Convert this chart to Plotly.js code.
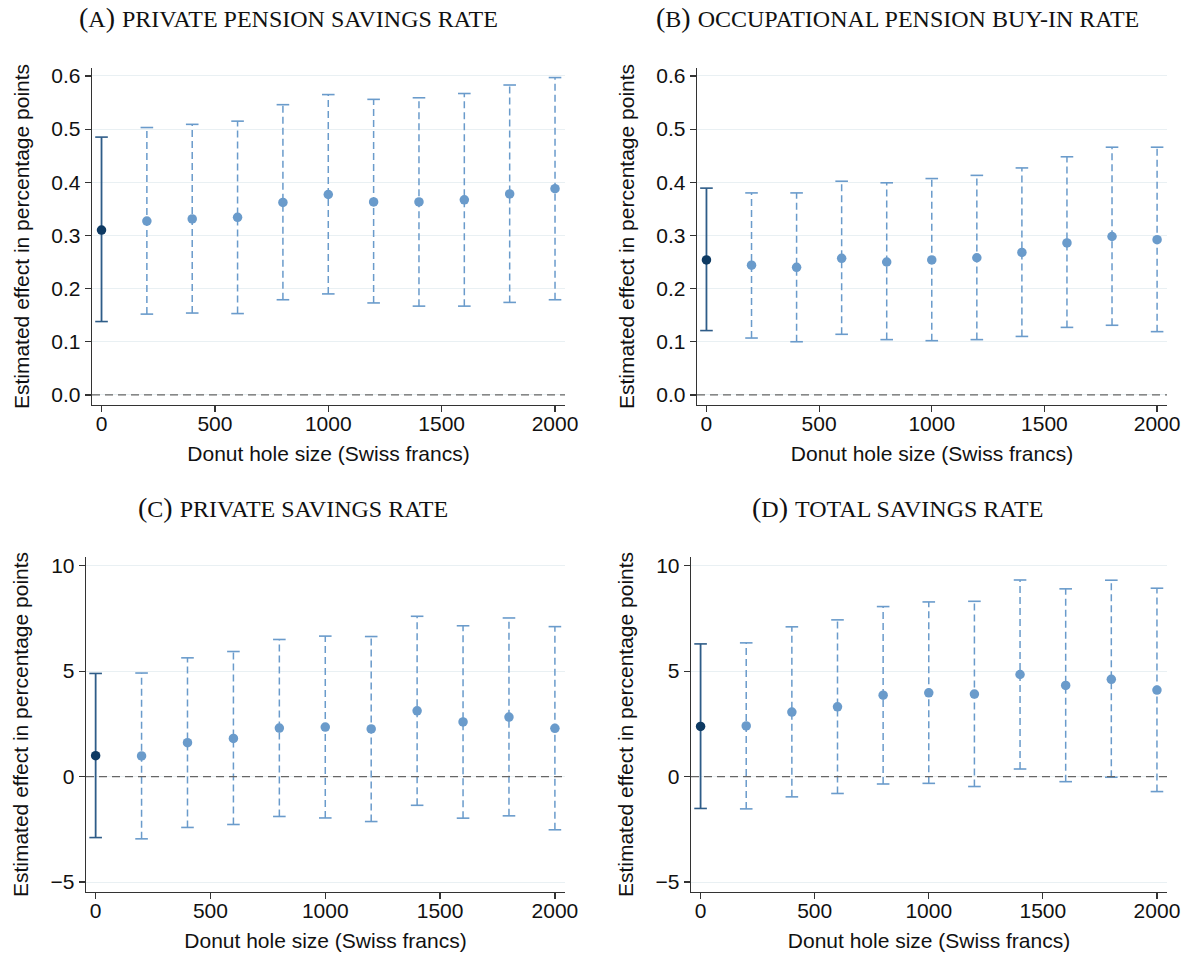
<!DOCTYPE html>
<html>
<head>
<meta charset="utf-8">
<script src="https://cdn.plot.ly/plotly-3.0.1.min.js"></script>
<style>html,body{margin:0;padding:0;background:#fff;}#chart{width:1188px;height:955px;}</style>
</head>
<body>
<div id="chart"></div>
<script>
// ---- data ----
const donutSize = [0, 200, 400, 600, 800, 1000, 1200, 1400, 1600, 1800, 2000];

const panelLetters = ["A", "B", "C", "D"];
const panelNames = [
  "PRIVATE PENSION SAVINGS RATE",
  "OCCUPATIONAL PENSION BUY-IN RATE",
  "PRIVATE SAVINGS RATE",
  "TOTAL SAVINGS RATE"
];

const aEst = [0.310, 0.327, 0.331, 0.334, 0.362, 0.377, 0.363, 0.363, 0.367, 0.378, 0.388];
const aLo  = [0.138, 0.152, 0.154, 0.153, 0.179, 0.190, 0.173, 0.167, 0.167, 0.174, 0.179];
const aHi  = [0.485, 0.503, 0.509, 0.515, 0.546, 0.565, 0.556, 0.559, 0.567, 0.583, 0.597];

const bEst = [0.254, 0.244, 0.240, 0.257, 0.250, 0.254, 0.258, 0.268, 0.286, 0.298, 0.292];
const bLo  = [0.121, 0.107, 0.100, 0.114, 0.104, 0.102, 0.104, 0.110, 0.127, 0.131, 0.119];
const bHi  = [0.389, 0.380, 0.380, 0.402, 0.399, 0.407, 0.413, 0.427, 0.448, 0.466, 0.466];

const cEst = [0.99, 0.98, 1.61, 1.81, 2.30, 2.35, 2.26, 3.12, 2.59, 2.82, 2.29];
const cLo  = [-2.89, -2.95, -2.41, -2.27, -1.89, -1.96, -2.13, -1.36, -1.97, -1.86, -2.52];
const cHi  = [4.89, 4.91, 5.63, 5.93, 6.50, 6.66, 6.64, 7.60, 7.15, 7.52, 7.11];

const dEst = [2.38, 2.40, 3.06, 3.31, 3.86, 3.97, 3.91, 4.84, 4.32, 4.61, 4.10];
const dLo  = [-1.51, -1.53, -0.96, -0.80, -0.35, -0.32, -0.47, 0.36, -0.24, -0.03, -0.71];
const dHi  = [6.29, 6.34, 7.10, 7.43, 8.06, 8.28, 8.31, 9.32, 8.90, 9.31, 8.93];

const xTickVals = [0, 500, 1000, 1500, 2000];
const yTicksPension = [0, 0.1, 0.2, 0.3, 0.4, 0.5, 0.6];
const yTicksSavings = [-5, 0, 5, 10];

const xTitle = "Donut hole size (Swiss francs)";
const yTitle = "Estimated effect in percentage points";

// ---- style ----
const LIGHT = "#6a9bcb";
const DARK = "#0e3a63";
const DARKBAR = "#2e5c88";
const SANS = "Liberation Sans, Arial, sans-serif";
const SERIF = "Liberation Serif, Times New Roman, serif";

const panels = [
  {est: aEst, lo: aLo, hi: aHi, xa: "x",  ya: "y"},
  {est: bEst, lo: bLo, hi: bHi, xa: "x2", ya: "y2"},
  {est: cEst, lo: cLo, hi: cHi, xa: "x3", ya: "y3"},
  {est: dEst, lo: dLo, hi: dHi, xa: "x4", ya: "y4"}
];

const traces = [];
panels.forEach(p => {
  const dx = [], dy = [];
  donutSize.forEach((x, i) => { if (i > 0) { dx.push(x, x, null); dy.push(p.lo[i], p.hi[i], null); } });
  traces.push({x: dx, y: dy, xaxis: p.xa, yaxis: p.ya, mode: "lines", type: "scatter",
    line: {color: LIGHT, width: 1.5, dash: "7px,4px"}, hoverinfo: "skip", showlegend: false});
  traces.push({x: [donutSize[0], donutSize[0]], y: [p.lo[0], p.hi[0]], xaxis: p.xa, yaxis: p.ya,
    mode: "lines", type: "scatter", line: {color: DARKBAR, width: 1.8}, hoverinfo: "skip", showlegend: false});
  const capCol = donutSize.map((x, i) => i === 0 ? DARKBAR : LIGHT);
  traces.push({x: donutSize.concat(donutSize), y: p.lo.concat(p.hi), xaxis: p.xa, yaxis: p.ya,
    mode: "markers", type: "scatter",
    marker: {symbol: "line-ew", size: 9, line: {width: 1.6, color: capCol.concat(capCol)}},
    hoverinfo: "skip", showlegend: false});
  traces.push({x: donutSize, y: p.est, xaxis: p.xa, yaxis: p.ya, mode: "markers", type: "scatter",
    marker: {size: 9.5, color: donutSize.map((x, i) => i === 0 ? DARK : LIGHT)},
    hoverinfo: "skip", showlegend: false});
});

function xaxis(domain, anchor) {
  return {domain: domain, anchor: anchor, range: [-42, 2044], tickvals: xTickVals,
    showgrid: false, zeroline: false, showline: true, linecolor: "#333", linewidth: 1.3,
    ticks: "outside", ticklen: 6, tickcolor: "#333", tickwidth: 1.2, ticklabelstandoff: -7,
    tickfont: {family: SANS, size: 21, color: "#111"},
    title: {text: xTitle, font: {family: SANS, size: 21, color: "#111"}, standoff: 12}};
}
function yaxis(domain, anchor, range, ticks, fmt) {
  return {domain: domain, anchor: anchor, range: range, tickvals: ticks, tickformat: fmt,
    showgrid: true, gridcolor: "#e9f0f3", gridwidth: 1, zeroline: false,
    showline: true, linecolor: "#333", linewidth: 1.3,
    ticks: "outside", ticklen: 6, tickcolor: "#333", tickwidth: 1.2,
    tickfont: {family: SANS, size: 21, color: "#111"},
    title: {text: yTitle, font: {family: SANS, size: 21, color: "#111"}, standoff: 16}};
}

const W = 1188, H = 955;
const fx = v => v / W, fy = v => 1 - v / H;

const titlePos = [[288, 18], [897, 18], [293, 507], [897, 507]];
const annotations = panelNames.map((t, i) => ({
  text: "(<span style='font-size:24px'>" + panelLetters[i] + "</span>) <span style='font-size:24px'>" + t + "</span>",
  xref: "paper", yref: "paper", x: fx(titlePos[i][0]), y: fy(titlePos[i][1]),
  xanchor: "center", yanchor: "middle", showarrow: false,
  font: {family: SERIF, size: 28, color: "#111"}
}));

const zeroLines = ["", "2", "3", "4"].map(s => ({
  type: "line", xref: "x" + s + " domain", yref: "y" + s, x0: 0, x1: 1, y0: 0, y1: 0,
  line: {color: "#666", width: 1.4, dash: "8px,5px"}, layer: "above"
}));

const layout = {
  width: W, height: H, autosize: false,
  margin: {l: 0, r: 0, t: 0, b: 0},
  paper_bgcolor: "#fff", plot_bgcolor: "#fff",
  showlegend: false,
  xaxis:  xaxis([fx(92), fx(565)], "y"),
  yaxis:  yaxis([fy(405), fy(68)], "x", [-0.019, 0.615], yTicksPension, ".1f"),
  xaxis2: xaxis([fx(697), fx(1167)], "y2"),
  yaxis2: yaxis([fy(405), fy(68)], "x2", [-0.019, 0.615], yTicksPension, ".1f"),
  xaxis3: xaxis([fx(86), fx(565)], "y3"),
  yaxis3: yaxis([fy(892), fy(557)], "x3", [-5.47, 10.41], yTicksSavings, "d"),
  xaxis4: xaxis([fx(691), fx(1167)], "y4"),
  yaxis4: yaxis([fy(892), fy(557)], "x4", [-5.47, 10.41], yTicksSavings, "d"),
  annotations: annotations,
  shapes: zeroLines
};

Plotly.newPlot("chart", traces, layout, {staticPlot: true, displayModeBar: false});
</script>
</body>
</html>
